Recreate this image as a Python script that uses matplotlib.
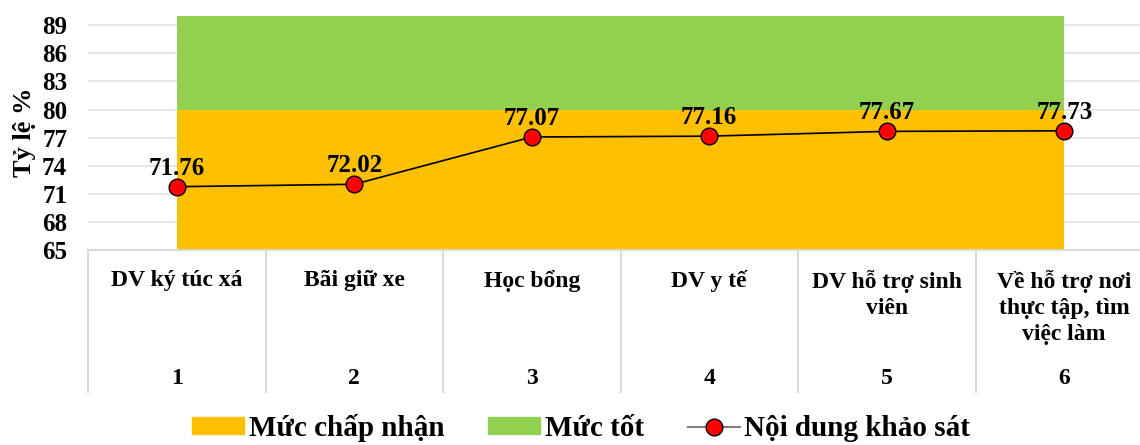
import matplotlib
matplotlib.use("Agg")
import matplotlib.pyplot as plt
from matplotlib.patches import Patch
from matplotlib.lines import Line2D

plt.rcParams['font.family'] = ['Liberation Serif', 'DejaVu Serif']
plt.rcParams['font.weight'] = 'bold'

categories = ["DV ký túc xá", "Bãi giữ xe", "Học bổng", "DV y tế",
              "DV hỗ trợ sinh\nviên", "Về hỗ trợ nơi\nthực tập, tìm\nviệc làm"]
numbers = ["1", "2", "3", "4", "5", "6"]
scores = [71.76, 72.02, 77.07, 77.16, 77.67, 77.73]
acceptable_level = [80, 80, 80, 80, 80, 80]
good_level = [90, 90, 90, 90, 90, 90]
yticks = [65, 68, 71, 74, 77, 80, 83, 86, 89]

W, H = 1140, 445
fig = plt.figure(figsize=(W / 100, H / 100), dpi=100)
left, right, top, bottom = 88, 88 + 6 * 177.5, 15, 250
ax = fig.add_axes([left / W, (H - bottom) / H, (right - left) / W, (bottom - top) / H])

x = list(range(1, len(scores) + 1))
ax.fill_between(x, 65, acceptable_level, color="#FFC000", lw=0, zorder=1)
ax.fill_between(x, acceptable_level, good_level, color="#92D050", lw=0, zorder=1)
ax.plot(x, scores, color="black", lw=1.2, marker="o", markersize=12,
        markerfacecolor="#FF0000", markeredgecolor="black", markeredgewidth=1, zorder=4)

for xi, v in zip(x, scores):
    ax.annotate(f"{v:.2f}", (xi, v), xytext=(0, 5), textcoords="offset points",
                ha="center", va="bottom", fontsize=18, fontweight="bold", zorder=5)

ax.set_xlim(0.5, 6.5)
ax.set_ylim(65, 90.1)
ax.set_yticks(yticks)
ax.set_yticklabels([str(t) for t in yticks], fontsize=18, fontweight="bold")
ax.tick_params(axis="y", length=0, pad=15)
ax.set_xticks([])
ax.grid(axis="y", color="#e6e6e6", lw=1.5, zorder=0)
ax.set_axisbelow(True)
for s in ["top", "right", "left"]:
    ax.spines[s].set_visible(False)
ax.spines["bottom"].set_color("#d9d9d9")
ax.spines["bottom"].set_linewidth(1.5)

ax.set_ylabel("Tỷ lệ %", fontsize=19, fontweight="bold", labelpad=4)

# two-level category axis below the plot
xt = ax.get_xaxis_transform()
sep_bottom = -(392 - bottom) / (bottom - top)
for k in range(7):
    ax.plot([0.5 + k, 0.5 + k], [0, sep_bottom], transform=xt, color="#d9d9d9",
            lw=1.5, clip_on=False)
label_y = -(270 - bottom) / (bottom - top)
num_y = -(379 - bottom) / (bottom - top)
for xi, cat, num in zip(x, categories, numbers):
    ax.text(xi, label_y, cat, transform=xt, ha="center", va="top", fontsize=17,
            fontweight="bold", linespacing=1.3)
    ax.text(xi, num_y, num, transform=xt, ha="center", va="center", fontsize=17,
            fontweight="bold")

handles = [Patch(color="#FFC000", label="Mức chấp nhận"),
           Patch(color="#92D050", label="Mức tốt"),
           Line2D([0], [0], color="#7f7f7f", lw=1.5, marker="o", markersize=12,
                  markerfacecolor="#FF0000", markeredgecolor="black",
                  label="Nội dung khảo sát")]
fig.legend(handles=handles, loc="center", bbox_to_anchor=(581 / W, 1 - 428 / H),
           ncol=3, frameon=False, prop={"size": 21, "weight": "bold"},
           handlelength=1.8, handleheight=0.5, columnspacing=1.5, handletextpad=0.15)

fig.savefig("out.png", dpi=100)
